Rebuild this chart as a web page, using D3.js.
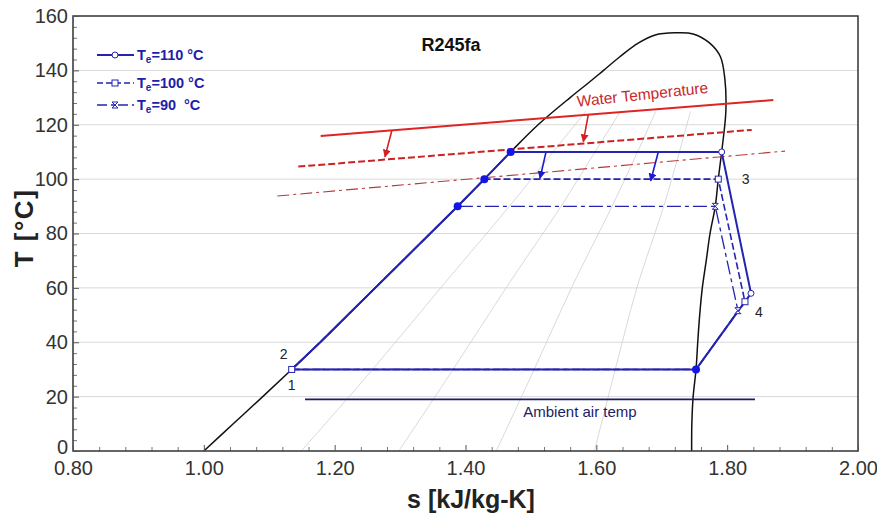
<!DOCTYPE html>
<html>
<head>
<meta charset="utf-8">
<script src="https://cdn.jsdelivr.net/npm/d3@7"></script>
<style>
  html, body { margin: 0; padding: 0; background: #fff; }
  svg { display: block; font-family: Arial, "Liberation Sans", sans-serif; }
</style>
</head>
<body>
<svg id="chart" width="877" height="515"></svg>
<script>
// ---- Axis ticks ----
const xTicks = [0.80, 1.00, 1.20, 1.40, 1.60, 1.80, 2.00];
const yTicks = [0, 20, 40, 60, 80, 100, 120, 140, 160];

// ---- Saturation dome of R245fa: [s (kJ/kg-K), T (°C)] ----
const satLiquid = [[1.000,0],[1.045,10],[1.090,20],[1.1343,30],[1.178,40],[1.220,50],[1.262,60],[1.304,70],
  [1.346,80],[1.388,90],[1.4288,100],[1.469,110],[1.511,120],[1.560,130],[1.590,135.8],[1.611,140],[1.636,145],
  [1.664,150],[1.690,153],[1.720,153.8]];
const satVapor = [[1.748,153.4],[1.7734,150],[1.7897,145],[1.7966,136.5],[1.798,125],[1.7916,110],[1.7864,100],
  [1.7818,90],[1.7738,80],[1.768,70],[1.762,60],[1.758,50],[1.755,40],[1.7524,30],[1.748,20],[1.746,10],[1.7457,0]];

// ---- Constant-quality lines (x = 0.2, 0.4, 0.6, 0.8) ----
const quality02 = [[1.149,0],[1.258,30],[1.362,60],[1.467,90],[1.534,110],[1.584,125]];
const quality04 = [[1.298,0],[1.381,30],[1.462,60],[1.546,90],[1.598,110],[1.637,125]];
const quality06 = [[1.447,0],[1.505,30],[1.562,60],[1.624,90],[1.663,110],[1.691,125]];
const quality08 = [[1.597,0],[1.629,30],[1.662,60],[1.703,90],[1.727,110],[1.744,125]];

// ---- ORC cycles for three evaporation temperatures ----
const seriesNames = ["110", "100", "90"];
const cycle110 = [[1.1343,30],[1.178,40],[1.220,50],[1.262,60],[1.304,70],[1.346,80],[1.388,90],[1.4288,100],
  [1.469,110],[1.7916,110],[1.8364,58.0],[1.7524,30],[1.1343,30]];
const cycle100 = [[1.1343,30],[1.178,40],[1.220,50],[1.262,60],[1.304,70],[1.346,80],[1.388,90],[1.4288,100],
  [1.7864,100],[1.8272,54.9],[1.7524,30],[1.1343,30]];
const cycle90 = [[1.1343,30],[1.178,40],[1.220,50],[1.262,60],[1.304,70],[1.346,80],[1.388,90],
  [1.7818,90],[1.8165,51.6],[1.7524,30],[1.1343,30]];
// turbine inlet (3) and outlet (4) states
const states110 = [[1.7916,110],[1.8364,58.0]];
const states100 = [[1.1343,30],[1.7864,100],[1.8272,54.9]];
const states90 = [[1.7818,90],[1.8165,51.6]];
// saturation points on each cycle
const satPoints = [[1.469,110],[1.4288,100],[1.388,90],[1.7524,30]];

// ---- Heat-source water temperature lines ----
const waterSolid = [[1.1786,115.9],[1.8705,129.1]];
const waterDashed = [[1.1444,104.6],[1.8375,118.1]];
const waterDashDot = [[1.1123,93.8],[1.8884,110.3]];
const redArrows = [[[1.2872,117.7],[1.2769,108.2]], [[1.5877,123.6],[1.5801,113.8]]];
const blueArrows = [[[1.5231,110],[1.5139,100.3]], [[1.6947,110],[1.6831,99.4]]];

// ---- Ambient air ----
const ambient = [[1.1547,19],[1.8425,19]];

// ================= drawing =================
const svg = d3.select("#chart");
const W = 877, H = 515;
const M = {left: 73, right: 19, top: 16, bottom: 64};
const x = d3.scaleLinear().domain([0.8, 2.0]).range([M.left, W - M.right]);
const y = d3.scaleLinear().domain([0, 160]).range([H - M.bottom, M.top]);
const line = d3.line().x(d => x(d[0])).y(d => y(d[1]));
const smooth = d3.line().x(d => x(d[0])).y(d => y(d[1])).curve(d3.curveCatmullRom.alpha(0.5));

svg.append("rect").attr("width", W).attr("height", H).attr("fill", "#fff");

// horizontal grid
svg.append("g").selectAll("line").data(yTicks.filter(v => v > 0 && v < 160)).join("line")
  .attr("x1", x(0.8)).attr("x2", x(2.0)).attr("y1", d => y(d)).attr("y2", d => y(d))
  .attr("stroke", "#d9d9d9").attr("stroke-width", 1);

// minor ticks
const xMinor = d3.range(0, 31).map(i => 0.8 + i * 0.04).filter((v, i) => i % 5 !== 0);
const yMinor = d3.range(0, 41).map(i => i * 4).filter((v, i) => i % 5 !== 0);
svg.append("g").attr("transform", `translate(0,${y(0)})`)
  .call(d3.axisBottom(x).tickValues(xMinor).tickSize(-4).tickFormat(""))
  .call(g => g.select(".domain").remove())
  .call(g => g.selectAll("line").attr("stroke", "#777"));
svg.append("g").attr("transform", `translate(${x(0.8)},0)`)
  .call(d3.axisLeft(y).tickValues(yMinor).tickSize(-4).tickFormat(""))
  .call(g => g.select(".domain").remove())
  .call(g => g.selectAll("line").attr("stroke", "#777"));

// quality lines
svg.append("g").selectAll("path").data([quality02, quality04, quality06, quality08]).join("path")
  .attr("d", smooth).attr("fill", "none").attr("stroke", "#cfcfcf").attr("stroke-width", 0.8);

// saturation dome
svg.append("path").attr("d", smooth(satLiquid.concat(satVapor)))
  .attr("fill", "none").attr("stroke", "#111").attr("stroke-width", 1.5);

// ambient air line
svg.append("path").attr("d", line(ambient)).attr("stroke", "#1b1b66").attr("stroke-width", 1.8).attr("fill", "none");
svg.append("text").attr("x", x(1.575)).attr("y", y(ambient[0][1]) + 18).attr("text-anchor", "middle")
  .attr("font-size", 15).attr("fill", "#1b1b66").text("Ambient air temp");

// water temperature lines
svg.append("path").attr("d", line(waterSolid)).attr("stroke", "#e02323").attr("stroke-width", 2).attr("fill", "none");
svg.append("path").attr("d", line(waterDashed)).attr("stroke", "#cc2222").attr("stroke-width", 2)
  .attr("stroke-dasharray", "7,3").attr("fill", "none");
svg.append("path").attr("d", line(waterDashDot)).attr("stroke", "#b83a3a").attr("stroke-width", 1.1)
  .attr("stroke-dasharray", "12,4,3,4").attr("fill", "none");

// arrow heads
const defs = svg.append("defs");
function arrowMarker(id, color) {
  defs.append("marker").attr("id", id).attr("viewBox", "0 0 10 10").attr("refX", 9).attr("refY", 5)
    .attr("markerWidth", 8).attr("markerHeight", 8).attr("markerUnits", "userSpaceOnUse").attr("orient", "auto")
    .append("path").attr("d", "M0,0 L10,5 L0,10 Z").attr("fill", color);
}
arrowMarker("arrRed", "#d42020");
arrowMarker("arrBlue", "#1a1ad0");
svg.append("g").selectAll("path").data(redArrows).join("path").attr("d", line)
  .attr("stroke", "#d42020").attr("stroke-width", 1.6).attr("fill", "none").attr("marker-end", "url(#arrRed)");
svg.append("g").selectAll("path").data(blueArrows).join("path").attr("d", line)
  .attr("stroke", "#1a1ad0").attr("stroke-width", 1.6).attr("fill", "none").attr("marker-end", "url(#arrBlue)");

svg.append("text").attr("transform", `translate(${x(1.6713)},${y(129.2)}) rotate(-6)`)
  .attr("text-anchor", "middle").attr("font-size", 15.5).attr("fill", "#c8282d").text("Water Temperature");

// cycles
const blue = "#2424b0";
const styles = {
  "90": {data: cycle90, dash: "14,4,4,4", width: 1.3},
  "100": {data: cycle100, dash: "7,3", width: 1.6},
  "110": {data: cycle110, dash: null, width: 2}
};
["90", "100", "110"].forEach(k => {
  svg.append("path").attr("d", line(styles[k].data)).attr("fill", "none").attr("stroke", blue)
    .attr("stroke-width", styles[k].width).attr("stroke-dasharray", styles[k].dash)
    .attr("stroke-linejoin", "round");
});

// filled saturation dots
svg.append("g").selectAll("circle").data(satPoints).join("circle")
  .attr("cx", d => x(d[0])).attr("cy", d => y(d[1])).attr("r", 4).attr("fill", "#1414e6");

// state markers
const hourglass = "M-3,-3 L3,-3 L-3,3 L3,3 Z";
function drawMarker(g, kind, cx, cy) {
  if (kind === "110") g.append("circle").attr("cx", cx).attr("cy", cy).attr("r", 3)
    .attr("fill", "#fff").attr("stroke", blue).attr("stroke-width", 1);
  else if (kind === "100") g.append("rect").attr("x", cx - 3).attr("y", cy - 3).attr("width", 6).attr("height", 6)
    .attr("fill", "#fff").attr("stroke", blue).attr("stroke-width", 1);
  else g.append("path").attr("d", hourglass).attr("transform", `translate(${cx},${cy})`)
    .attr("fill", "#fff").attr("stroke", blue).attr("stroke-width", 1);
}
const mk = svg.append("g");
states90.forEach(d => drawMarker(mk, "90", x(d[0]), y(d[1])));
states100.forEach(d => drawMarker(mk, "100", x(d[0]), y(d[1])));
states110.forEach(d => drawMarker(mk, "110", x(d[0]), y(d[1])));

// state numbers
const stLab = svg.append("g").attr("font-size", 14).attr("fill", "#222").attr("text-anchor", "middle");
stLab.append("text").attr("x", x(cycle110[0][0])).attr("y", y(cycle110[0][1]) + 21).text("1");
stLab.append("text").attr("x", x(cycle110[0][0]) - 8).attr("y", y(cycle110[0][1]) - 10).text("2");
stLab.append("text").attr("x", x(states110[0][0]) + 24).attr("y", y(states110[0][1]) + 32).text("3");
stLab.append("text").attr("x", x(states110[1][0]) + 8).attr("y", y(states110[1][1]) + 24).text("4");

// frame
svg.append("rect").attr("x", x(0.8)).attr("y", y(160)).attr("width", x(2.0) - x(0.8)).attr("height", y(0) - y(160))
  .attr("fill", "none").attr("stroke", "#333").attr("stroke-width", 1.5);

// major axes with labels
svg.append("g").attr("transform", `translate(0,${y(0)})`)
  .call(d3.axisBottom(x).tickValues(xTicks).tickSize(-6).tickPadding(10).tickFormat(d3.format(".2f")))
  .call(g => g.select(".domain").remove())
  .call(g => g.selectAll("line").attr("stroke", "#555"))
  .call(g => g.selectAll("text").attr("font-size", 20).attr("fill", "#333").attr("font-family", "Arial, 'Liberation Sans', sans-serif"));
svg.append("g").attr("transform", `translate(${x(0.8)},0)`)
  .call(d3.axisLeft(y).tickValues(yTicks).tickSize(-6).tickPadding(5))
  .call(g => g.select(".domain").remove())
  .call(g => g.selectAll("line").attr("stroke", "#555"))
  .call(g => g.selectAll("text").attr("font-size", 20).attr("fill", "#333").attr("font-family", "Arial, 'Liberation Sans', sans-serif")
    .attr("dy", d => d === 0 ? "0.12em" : "0.32em"));

// axis titles
svg.append("text").attr("x", 471).attr("y", 508).attr("text-anchor", "middle")
  .attr("font-size", 25).attr("font-weight", "bold").attr("fill", "#222").text("s [kJ/kg-K]");
svg.append("text").attr("transform", `translate(33,228) rotate(-90)`).attr("text-anchor", "middle")
  .attr("font-size", 26).attr("font-weight", "bold").attr("fill", "#222").attr("letter-spacing", 1.5).text("T [°C]");

// title
svg.append("text").attr("x", 451).attr("y", 51).attr("text-anchor", "middle")
  .attr("font-size", 18).attr("font-weight", "bold").attr("fill", "#111").text("R245fa");

// legend
const legend = svg.append("g").attr("transform", "translate(97,0)");
const legendRows = [{k: "110", yy: 55, dash: null, w: 2}, {k: "100", yy: 83, dash: "6,3", w: 1.6}, {k: "90", yy: 105, dash: "10,4,3,4", w: 1.3}];
legendRows.forEach(r => {
  legend.append("line").attr("x1", 0).attr("x2", 37).attr("y1", r.yy).attr("y2", r.yy)
    .attr("stroke", blue).attr("stroke-width", r.w).attr("stroke-dasharray", r.dash);
  drawMarker(legend, r.k, 18, r.yy);
  const t = legend.append("text").attr("x", 40).attr("y", r.yy + 5).attr("font-size", 14.5)
    .attr("font-weight", "bold").attr("fill", "#2020a8").attr("xml:space", "preserve").style("white-space", "pre");
  t.append("tspan").text("T");
  t.append("tspan").attr("font-size", 10).attr("dy", 3).text("e");
  t.append("tspan").attr("dy", -3).text("=" + r.k + (r.k === "90" ? "  °C" : " °C"));
});
</script>
</body>
</html>
